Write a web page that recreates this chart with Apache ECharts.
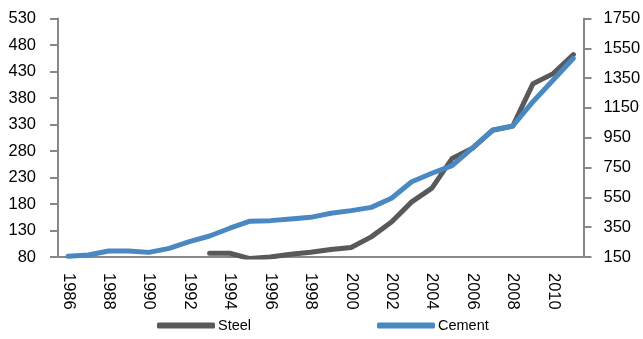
<!DOCTYPE html>
<html>
<head>
<meta charset="utf-8">
<script src="https://cdn.jsdelivr.net/npm/echarts@6/dist/echarts.min.js"></script>
<style>
  html, body { margin: 0; padding: 0; background: #fff; }
  #chart { width: 643px; height: 339px; }
</style>
</head>
<body>
<div id="chart"></div>
<script>
// Years on the category axis
const years = ['1986','1987','1988','1989','1990','1991','1992','1993','1994','1995',
               '1996','1997','1998','1999','2000','2001','2002','2003','2004','2005',
               '2006','2007','2008','2009','2010','2011'];

// Steel (left axis); no values before 1993
const steel = [null, null, null, null, null, null, null, 87, 87, 77,
               80, 85, 89, 94, 98, 118, 146, 184, 210, 266,
               285, 319, 327, 407, 426, 462];

// Cement (right axis)
const cement = [155, 163, 190, 190, 181, 208, 253, 291, 343, 390,
                394, 405, 416, 443, 461, 483, 544, 655, 712, 763,
                880, 1002, 1029, 1192, 1337, 1483];

// Tick labels for both value axes
const leftTicks = [80, 130, 180, 230, 280, 330, 380, 430, 480, 530];
const rightTicks = [150, 350, 550, 750, 950, 1150, 1350, 1550, 1750];

const FONT = '"Liberation Sans", Arial, sans-serif';
const AXIS_GREY = '#888888';
const STEEL_COLOR = '#59595b';
const CEMENT_COLOR = '#4a88c2';

const chart = echarts.init(document.getElementById('chart'), null, { renderer: 'canvas' });

function valueAxis(position, ticks, margin) {
  return {
    type: 'value',
    position: position,
    min: ticks[0],
    max: ticks[ticks.length - 1],
    axisLine: { show: true, lineStyle: { color: AXIS_GREY, width: 2 } },
    axisTick: { show: true, length: 8, customValues: ticks, lineStyle: { color: AXIS_GREY, width: 2 } },
    axisLabel: {
      customValues: ticks, margin: margin, color: '#000',
      fontFamily: FONT, fontSize: 16.5,
      formatter: function (v) { return String(v); }
    },
    splitLine: { show: false }
  };
}

function legendFor(name, left) {
  return {
    data: [name], left: left, top: 318, padding: 0,
    icon: 'roundRect', itemWidth: 58, itemHeight: 6, itemGap: 0,
    textStyle: { color: '#000', fontFamily: FONT, fontSize: 14.5, padding: [0, 0, 0, -2] }
  };
}

chart.setOption({
  animation: false,
  grid: {
    left: 58, right: 59.5, top: 18.5, bottom: 82,
    containLabel: false, outerBoundsMode: 'none'
  },
  legend: [legendFor('Steel', 157), legendFor('Cement', 377)],
  xAxis: {
    type: 'category',
    data: years,
    boundaryGap: true,
    axisLine: { lineStyle: { color: AXIS_GREY, width: 2 } },
    axisTick: { interval: 1, length: 7, lineStyle: { color: AXIS_GREY, width: 2 } },
    axisLabel: { interval: 1, rotate: -90, margin: 16, color: '#000', fontFamily: FONT, fontSize: 16.5 }
  },
  yAxis: [
    valueAxis('left', leftTicks, 22),
    valueAxis('right', rightTicks, 20)
  ],
  series: [
    {
      name: 'Steel', type: 'line', yAxisIndex: 0, data: steel,
      symbol: 'none', smooth: false, connectNulls: false,
      lineStyle: { color: STEEL_COLOR, width: 5, cap: 'round', join: 'round' },
      itemStyle: { color: STEEL_COLOR }
    },
    {
      name: 'Cement', type: 'line', yAxisIndex: 1, data: cement,
      symbol: 'none', smooth: false,
      lineStyle: { color: CEMENT_COLOR, width: 5, cap: 'round', join: 'round' },
      itemStyle: { color: CEMENT_COLOR }
    }
  ]
});
</script>
</body>
</html>
